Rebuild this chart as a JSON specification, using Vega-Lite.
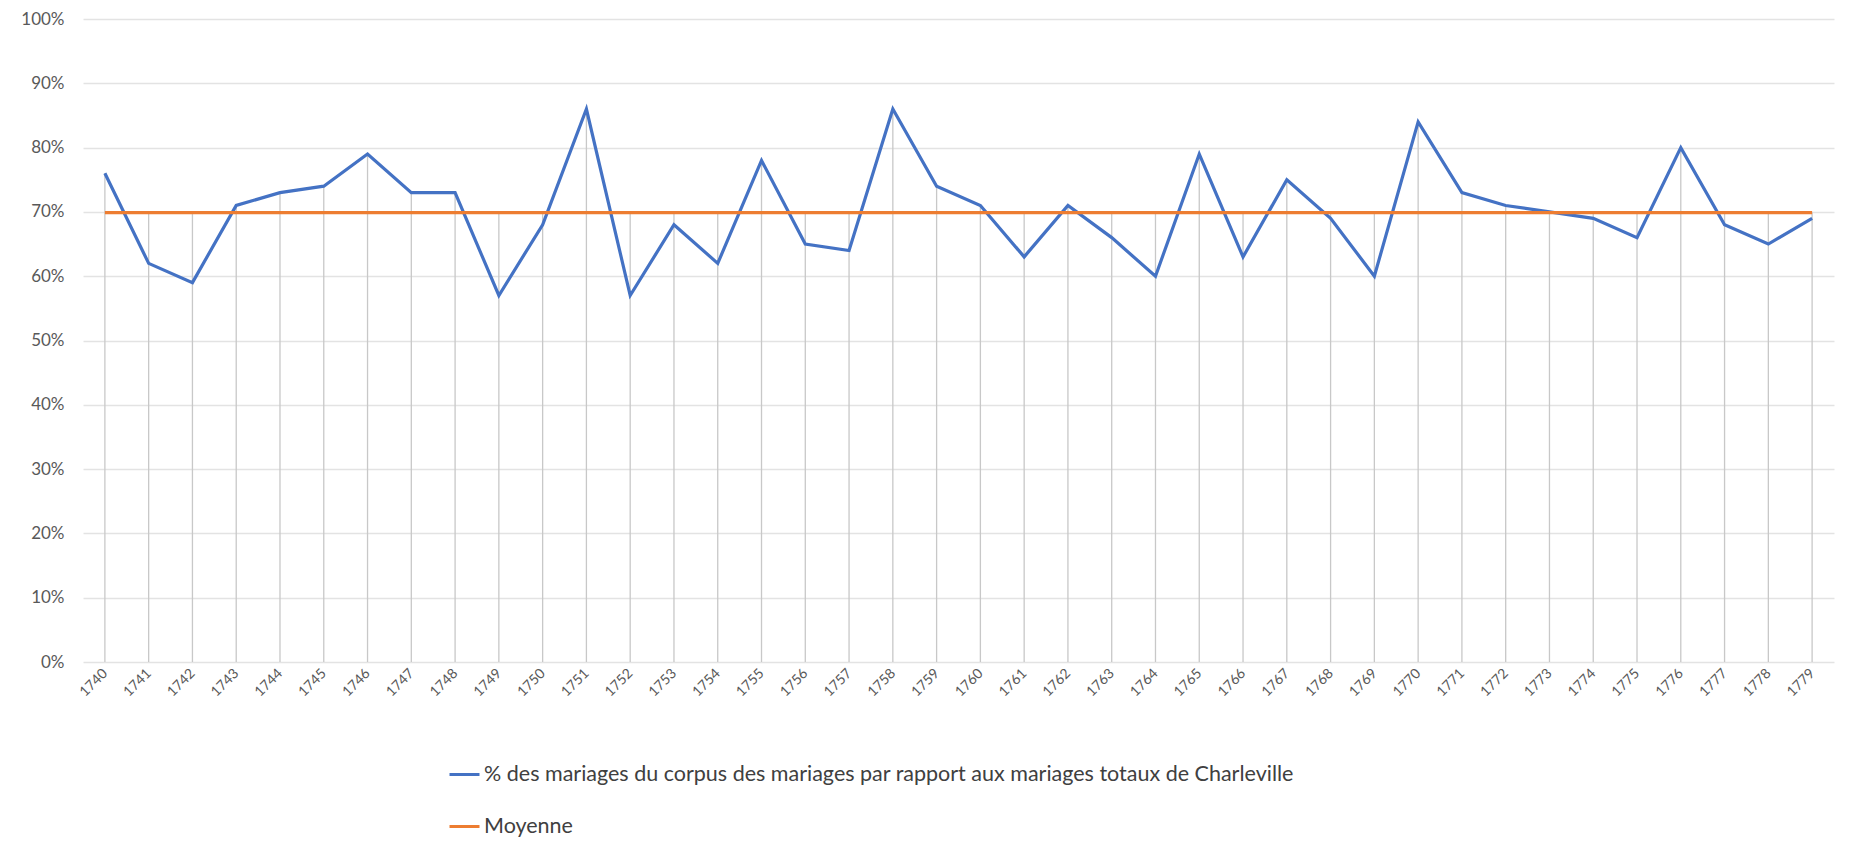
{
  "$schema": "https://vega.github.io/schema/vega-lite/v6.json",
  "width": 1751,
  "height": 643,
  "autosize": {"type": "none"},
  "padding": {"left": 83, "top": 19, "right": 41, "bottom": 196},
  "background": "white",
  "config": {
    "view": {"stroke": null},
    "font": "Lato",
    "axis": {"labelFont": "Lato", "labelColor": "#595959"},
    "legend": {"labelFont": "Lato"}
  },
  "data": {
    "values": [
      {"annee": 1740, "serie": "% des mariages du corpus des mariages par rapport aux mariages totaux de Charleville", "valeur": 0.76},
      {"annee": 1741, "serie": "% des mariages du corpus des mariages par rapport aux mariages totaux de Charleville", "valeur": 0.62},
      {"annee": 1742, "serie": "% des mariages du corpus des mariages par rapport aux mariages totaux de Charleville", "valeur": 0.59},
      {"annee": 1743, "serie": "% des mariages du corpus des mariages par rapport aux mariages totaux de Charleville", "valeur": 0.71},
      {"annee": 1744, "serie": "% des mariages du corpus des mariages par rapport aux mariages totaux de Charleville", "valeur": 0.73},
      {"annee": 1745, "serie": "% des mariages du corpus des mariages par rapport aux mariages totaux de Charleville", "valeur": 0.74},
      {"annee": 1746, "serie": "% des mariages du corpus des mariages par rapport aux mariages totaux de Charleville", "valeur": 0.79},
      {"annee": 1747, "serie": "% des mariages du corpus des mariages par rapport aux mariages totaux de Charleville", "valeur": 0.73},
      {"annee": 1748, "serie": "% des mariages du corpus des mariages par rapport aux mariages totaux de Charleville", "valeur": 0.73},
      {"annee": 1749, "serie": "% des mariages du corpus des mariages par rapport aux mariages totaux de Charleville", "valeur": 0.57},
      {"annee": 1750, "serie": "% des mariages du corpus des mariages par rapport aux mariages totaux de Charleville", "valeur": 0.68},
      {"annee": 1751, "serie": "% des mariages du corpus des mariages par rapport aux mariages totaux de Charleville", "valeur": 0.86},
      {"annee": 1752, "serie": "% des mariages du corpus des mariages par rapport aux mariages totaux de Charleville", "valeur": 0.57},
      {"annee": 1753, "serie": "% des mariages du corpus des mariages par rapport aux mariages totaux de Charleville", "valeur": 0.68},
      {"annee": 1754, "serie": "% des mariages du corpus des mariages par rapport aux mariages totaux de Charleville", "valeur": 0.62},
      {"annee": 1755, "serie": "% des mariages du corpus des mariages par rapport aux mariages totaux de Charleville", "valeur": 0.78},
      {"annee": 1756, "serie": "% des mariages du corpus des mariages par rapport aux mariages totaux de Charleville", "valeur": 0.65},
      {"annee": 1757, "serie": "% des mariages du corpus des mariages par rapport aux mariages totaux de Charleville", "valeur": 0.64},
      {"annee": 1758, "serie": "% des mariages du corpus des mariages par rapport aux mariages totaux de Charleville", "valeur": 0.86},
      {"annee": 1759, "serie": "% des mariages du corpus des mariages par rapport aux mariages totaux de Charleville", "valeur": 0.74},
      {"annee": 1760, "serie": "% des mariages du corpus des mariages par rapport aux mariages totaux de Charleville", "valeur": 0.71},
      {"annee": 1761, "serie": "% des mariages du corpus des mariages par rapport aux mariages totaux de Charleville", "valeur": 0.63},
      {"annee": 1762, "serie": "% des mariages du corpus des mariages par rapport aux mariages totaux de Charleville", "valeur": 0.71},
      {"annee": 1763, "serie": "% des mariages du corpus des mariages par rapport aux mariages totaux de Charleville", "valeur": 0.66},
      {"annee": 1764, "serie": "% des mariages du corpus des mariages par rapport aux mariages totaux de Charleville", "valeur": 0.60},
      {"annee": 1765, "serie": "% des mariages du corpus des mariages par rapport aux mariages totaux de Charleville", "valeur": 0.79},
      {"annee": 1766, "serie": "% des mariages du corpus des mariages par rapport aux mariages totaux de Charleville", "valeur": 0.63},
      {"annee": 1767, "serie": "% des mariages du corpus des mariages par rapport aux mariages totaux de Charleville", "valeur": 0.75},
      {"annee": 1768, "serie": "% des mariages du corpus des mariages par rapport aux mariages totaux de Charleville", "valeur": 0.69},
      {"annee": 1769, "serie": "% des mariages du corpus des mariages par rapport aux mariages totaux de Charleville", "valeur": 0.60},
      {"annee": 1770, "serie": "% des mariages du corpus des mariages par rapport aux mariages totaux de Charleville", "valeur": 0.84},
      {"annee": 1771, "serie": "% des mariages du corpus des mariages par rapport aux mariages totaux de Charleville", "valeur": 0.73},
      {"annee": 1772, "serie": "% des mariages du corpus des mariages par rapport aux mariages totaux de Charleville", "valeur": 0.71},
      {"annee": 1773, "serie": "% des mariages du corpus des mariages par rapport aux mariages totaux de Charleville", "valeur": 0.70},
      {"annee": 1774, "serie": "% des mariages du corpus des mariages par rapport aux mariages totaux de Charleville", "valeur": 0.69},
      {"annee": 1775, "serie": "% des mariages du corpus des mariages par rapport aux mariages totaux de Charleville", "valeur": 0.66},
      {"annee": 1776, "serie": "% des mariages du corpus des mariages par rapport aux mariages totaux de Charleville", "valeur": 0.80},
      {"annee": 1777, "serie": "% des mariages du corpus des mariages par rapport aux mariages totaux de Charleville", "valeur": 0.68},
      {"annee": 1778, "serie": "% des mariages du corpus des mariages par rapport aux mariages totaux de Charleville", "valeur": 0.65},
      {"annee": 1779, "serie": "% des mariages du corpus des mariages par rapport aux mariages totaux de Charleville", "valeur": 0.69},
      {"annee": 1740, "serie": "Moyenne", "valeur": 0.699},
      {"annee": 1741, "serie": "Moyenne", "valeur": 0.699},
      {"annee": 1742, "serie": "Moyenne", "valeur": 0.699},
      {"annee": 1743, "serie": "Moyenne", "valeur": 0.699},
      {"annee": 1744, "serie": "Moyenne", "valeur": 0.699},
      {"annee": 1745, "serie": "Moyenne", "valeur": 0.699},
      {"annee": 1746, "serie": "Moyenne", "valeur": 0.699},
      {"annee": 1747, "serie": "Moyenne", "valeur": 0.699},
      {"annee": 1748, "serie": "Moyenne", "valeur": 0.699},
      {"annee": 1749, "serie": "Moyenne", "valeur": 0.699},
      {"annee": 1750, "serie": "Moyenne", "valeur": 0.699},
      {"annee": 1751, "serie": "Moyenne", "valeur": 0.699},
      {"annee": 1752, "serie": "Moyenne", "valeur": 0.699},
      {"annee": 1753, "serie": "Moyenne", "valeur": 0.699},
      {"annee": 1754, "serie": "Moyenne", "valeur": 0.699},
      {"annee": 1755, "serie": "Moyenne", "valeur": 0.699},
      {"annee": 1756, "serie": "Moyenne", "valeur": 0.699},
      {"annee": 1757, "serie": "Moyenne", "valeur": 0.699},
      {"annee": 1758, "serie": "Moyenne", "valeur": 0.699},
      {"annee": 1759, "serie": "Moyenne", "valeur": 0.699},
      {"annee": 1760, "serie": "Moyenne", "valeur": 0.699},
      {"annee": 1761, "serie": "Moyenne", "valeur": 0.699},
      {"annee": 1762, "serie": "Moyenne", "valeur": 0.699},
      {"annee": 1763, "serie": "Moyenne", "valeur": 0.699},
      {"annee": 1764, "serie": "Moyenne", "valeur": 0.699},
      {"annee": 1765, "serie": "Moyenne", "valeur": 0.699},
      {"annee": 1766, "serie": "Moyenne", "valeur": 0.699},
      {"annee": 1767, "serie": "Moyenne", "valeur": 0.699},
      {"annee": 1768, "serie": "Moyenne", "valeur": 0.699},
      {"annee": 1769, "serie": "Moyenne", "valeur": 0.699},
      {"annee": 1770, "serie": "Moyenne", "valeur": 0.699},
      {"annee": 1771, "serie": "Moyenne", "valeur": 0.699},
      {"annee": 1772, "serie": "Moyenne", "valeur": 0.699},
      {"annee": 1773, "serie": "Moyenne", "valeur": 0.699},
      {"annee": 1774, "serie": "Moyenne", "valeur": 0.699},
      {"annee": 1775, "serie": "Moyenne", "valeur": 0.699},
      {"annee": 1776, "serie": "Moyenne", "valeur": 0.699},
      {"annee": 1777, "serie": "Moyenne", "valeur": 0.699},
      {"annee": 1778, "serie": "Moyenne", "valeur": 0.699},
      {"annee": 1779, "serie": "Moyenne", "valeur": 0.699}
    ]
  },
  "encoding": {
    "x": {
      "field": "annee",
      "type": "ordinal",
      "scale": {"type": "point", "padding": 0.5},
      "axis": {
        "title": null,
        "labelAngle": -45,
        "labelAlign": "right",
        "labelBaseline": "middle",
        "labelFontSize": 14,
        "labelPadding": 9,
        "ticks": false,
        "domain": false,
        "grid": false
      }
    }
  },
  "layer": [
    {
      "mark": {"type": "rule", "color": "#c8c8c8", "strokeWidth": 1.3},
      "encoding": {
        "y": {
          "aggregate": "max",
          "field": "valeur",
          "type": "quantitative",
          "scale": {"domain": [0, 1], "nice": false},
          "axis": {
            "title": null,
            "values": [0, 0.1, 0.2, 0.3, 0.4, 0.5, 0.6, 0.7, 0.8, 0.9, 1],
            "format": ".0%",
            "labelFontSize": 17,
            "labelPadding": 19,
            "ticks": false,
            "domain": false,
            "grid": true,
            "gridColor": "#e3e3e3",
            "gridWidth": 1.3
          }
        },
        "y2": {"datum": 0}
      }
    },
    {
      "mark": {"type": "line", "strokeWidth": 3.2, "strokeJoin": "miter"},
      "encoding": {
        "y": {"field": "valeur", "type": "quantitative"},
        "color": {
          "field": "serie",
          "type": "nominal",
          "scale": {
            "domain": ["% des mariages du corpus des mariages par rapport aux mariages totaux de Charleville", "Moyenne"],
            "range": ["#4472C4", "#ED7D31"]
          },
          "legend": {
            "title": null,
            "orient": "none",
            "legendX": 365,
            "legendY": 739,
            "direction": "vertical",
            "symbolType": "stroke",
            "symbolSize": 900,
            "symbolStrokeWidth": 3,
            "labelFontSize": 21.5,
            "labelColor": "#404040",
            "labelOffset": 3,
            "labelLimit": 1400,
            "rowPadding": 25
          }
        }
      }
    }
  ]
}
